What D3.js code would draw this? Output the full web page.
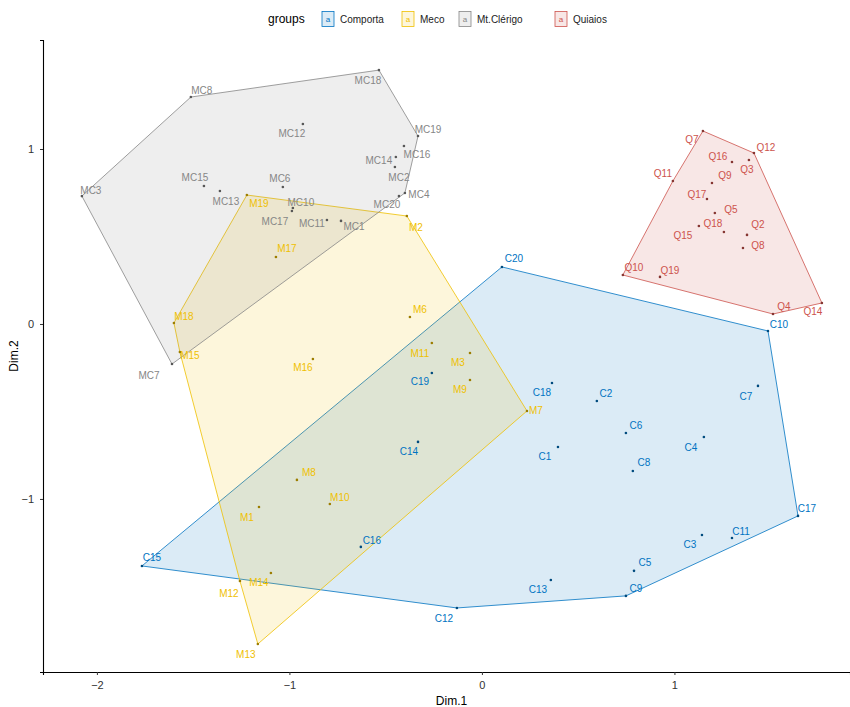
<!DOCTYPE html>
<html>
<head>
<meta charset="utf-8">
<script src="https://cdn.jsdelivr.net/npm/d3@7"></script>
<style>
  body { margin: 0; background: #fff; }
  svg { display: block; font-family: "Liberation Sans", Arial, sans-serif; }
</style>
</head>
<body>
<div id="chart"></div>
<script>
// ---- data ----
var groupNames = ["Comporta", "Meco", "Mt.Clérigo", "Quiaios"];
var groupColors = ["#0073C2", "#EFC000", "#868686", "#CD534C"];

var comportaNames = ["C1","C2","C3","C4","C5","C6","C7","C8","C9","C10","C11","C12","C13","C14","C15","C16","C17","C18","C19","C20"];
var comportaX = [0.395,0.597,1.143,1.153,0.790,0.748,1.434,0.784,0.748,1.486,1.299,-0.130,0.358,-0.332,-1.766,-0.629,1.642,0.364,-0.260,0.104];
var comportaY = [-0.703,-0.440,-1.206,-0.646,-1.411,-0.623,-0.354,-0.840,-1.554,-0.040,-1.223,-1.623,-1.463,-0.674,-1.383,-1.274,-1.097,-0.337,-0.280,0.326];

var mecoNames = ["M1","M2","M3","M6","M7","M8","M9","M10","M11","M12","M13","M14","M15","M16","M17","M18","M19"];
var mecoX = [-1.158,-0.390,-0.062,-0.374,0.234,-0.961,-0.062,-0.790,-0.260,-1.257,-1.164,-1.096,-1.569,-0.878,-1.070,-1.600,-1.221];
var mecoY = [-1.046,0.617,-0.166,0.040,-0.497,-0.891,-0.320,-1.029,-0.109,-1.469,-1.829,-1.423,-0.160,-0.200,0.383,0.006,0.737];

var clerigoNames = ["MC1","MC2","MC3","MC4","MC6","MC7","MC8","MC10","MC11","MC12","MC13","MC14","MC15","MC16","MC17","MC18","MC19","MC20"];
var clerigoX = [-0.732,-0.452,-2.078,-0.400,-1.034,-1.610,-1.512,-0.982,-0.805,-0.930,-1.361,-0.447,-1.444,-0.405,-0.987,-0.535,-0.332,-0.431];
var clerigoY = [0.589,0.897,0.731,0.749,0.783,-0.229,1.297,0.663,0.594,1.143,0.760,0.954,0.789,1.017,0.646,1.451,1.074,0.731];

var quiaiosNames = ["Q2","Q3","Q4","Q5","Q7","Q8","Q9","Q10","Q11","Q12","Q14","Q15","Q16","Q17","Q18","Q19"];
var quiaiosX = [1.377,1.387,1.512,1.210,1.148,1.356,1.195,0.732,0.992,1.413,1.766,1.127,1.299,1.169,1.257,0.925];
var quiaiosY = [0.509,0.937,0.057,0.634,1.103,0.434,0.806,0.280,0.817,0.977,0.120,0.560,0.926,0.714,0.526,0.269];

var xTicks = [-2, -1, 0, 1];
var yTicks = [-1, 0, 1];

// label placement (pixel nudges, like ggrepel output)
var labelNudge = {
  C1:[-13,10], C2:[9,-7], C3:[-12,10], C4:[-13,10], C5:[11,-8], C6:[10,-7], C7:[-12,11], C8:[11,-8],
  C9:[10,-7], C10:[11,-6], C11:[9,-6], C12:[-13,11], C13:[-13,10], C14:[-9,10], C15:[10,-8],
  C16:[11,-6], C17:[9,-7], C18:[-10,10], C19:[-12,9], C20:[12,-8],
  M1:[-12,10], M2:[9,11], M3:[-12,9], M6:[10,-7], M7:[9,0], M8:[12,-7], M9:[-10,10], M10:[10,-7],
  M11:[-12,10], M12:[-11,12], M13:[-12,10], M14:[-12,10], M15:[10,4], M16:[-10,9], M17:[11,-8],
  M18:[10,-6], M19:[12,8],
  MC1:[13,6], MC2:[4,10], MC3:[9,-6], MC4:[14,2], MC6:[-3,-8], MC7:[-23,11], MC8:[11,-7],
  MC10:[8,-5], MC11:[-15,3], MC12:[-11,10], MC13:[6,10], MC14:[-17,3], MC15:[-9,-8], MC16:[13,8],
  MC17:[-17,11], MC18:[-11,10], MC19:[10,-7], MC20:[-12,8],
  Q2:[11,-10], Q3:[-2,9], Q4:[11,-8], Q5:[16,-4], Q7:[-11,9], Q8:[15,-3], Q9:[13,-7], Q10:[11,-7],
  Q11:[-10,-8], Q12:[12,-6], Q14:[-9,9], Q15:[-16,10], Q16:[-14,-5], Q17:[-10,-5], Q18:[-11,-8],
  Q19:[10,-6]
};

var width = 850, height = 707;
var margin = {top: 40, right: 0, bottom: 35, left: 43};
var panelRight = 860; // panel runs slightly past the picture edge

var svg = d3.select("#chart").append("svg")
    .attr("width", width)
    .attr("height", height);

var x = d3.scaleLinear().domain([-2.28, 1.912]).range([margin.left, width - margin.right]);
var y = d3.scaleLinear().domain([1.623, -1.989]).range([margin.top, height - margin.bottom]);

function makeGroup(i, names, xs, ys) {
  return {
    name: groupNames[i],
    color: groupColors[i],
    points: names.map(function(n, k) { return {label: n, x: xs[k], y: ys[k]}; })
  };
}

var groups = [
  makeGroup(0, comportaNames, comportaX, comportaY),
  makeGroup(1, mecoNames, mecoX, mecoY),
  makeGroup(2, clerigoNames, clerigoX, clerigoY),
  makeGroup(3, quiaiosNames, quiaiosX, quiaiosY)
];

// hulls
var hullLayer = svg.append("g").attr("class", "hulls");
groups.forEach(function(g) {
  var pts = g.points.map(function(p) { return [x(p.x), y(p.y)]; });
  var hull = d3.polygonHull(pts);
  hullLayer.append("path")
      .attr("d", "M" + hull.join("L") + "Z")
      .attr("fill", g.color)
      .attr("fill-opacity", 0.14)
      .attr("stroke", g.color)
      .attr("stroke-width", 0.8);
});

// points and labels
groups.forEach(function(g) {
  var layer = svg.append("g").attr("class", "grp");
  layer.selectAll("circle")
      .data(g.points)
      .enter().append("circle")
      .attr("cx", function(d) { return x(d.x); })
      .attr("cy", function(d) { return y(d.y); })
      .attr("r", 1.3)
      .attr("fill", d3.color(g.color).darker(1.2));

  layer.selectAll("text")
      .data(g.points)
      .enter().append("text")
      .attr("x", function(d) { return x(d.x) + (labelNudge[d.label] || [0, -8])[0]; })
      .attr("y", function(d) { return y(d.y) + (labelNudge[d.label] || [0, -8])[1]; })
      .attr("text-anchor", "middle")
      .attr("dominant-baseline", "central")
      .attr("font-size", 10)
      .attr("fill", g.color)
      .text(function(d) { return d.label; });
});

// axes
var xAxis = d3.axisBottom(x).tickValues(xTicks).tickSize(3).tickPadding(6).tickFormat(d3.format("d"));
var yAxis = d3.axisLeft(y).tickValues(yTicks).tickSize(3).tickPadding(6).tickFormat(d3.format("d"));

var gx = svg.append("g")
    .attr("transform", "translate(0," + (height - margin.bottom) + ")")
    .call(xAxis);
var gy = svg.append("g")
    .attr("transform", "translate(" + margin.left + ",0)")
    .call(yAxis);

[gx, gy].forEach(function(a) {
  a.select(".domain").attr("stroke", "#000").attr("stroke-width", 1.1);
  a.selectAll(".tick line").attr("stroke", "#333");
  a.selectAll(".tick text").attr("font-size", 11).attr("fill", "#333")
      .attr("font-family", "Liberation Sans, Arial, sans-serif");
});

svg.append("text")
    .attr("x", (margin.left + panelRight) / 2)
    .attr("y", height - 2)
    .attr("text-anchor", "middle")
    .attr("font-size", 12)
    .attr("fill", "#000")
    .text("Dim.1");

svg.append("text")
    .attr("transform", "translate(18," + (margin.top + height - margin.bottom) / 2 + ") rotate(-90)")
    .attr("text-anchor", "middle")
    .attr("font-size", 12)
    .attr("fill", "#000")
    .text("Dim.2");

// legend
var legend = svg.append("g").attr("transform", "translate(268,19)");
legend.append("text")
    .attr("x", 0).attr("y", 0)
    .attr("dominant-baseline", "central")
    .attr("font-size", 12)
    .text("groups");

var legendX = [54, 134, 191, 287];
groups.forEach(function(g, i) {
  var item = legend.append("g").attr("transform", "translate(" + legendX[i] + ",0)");
  item.append("rect")
      .attr("x", 0).attr("y", -7.5)
      .attr("width", 12).attr("height", 15)
      .attr("fill", g.color).attr("fill-opacity", 0.14)
      .attr("stroke", g.color).attr("stroke-width", 0.8);
  item.append("text")
      .attr("x", 6).attr("y", 0)
      .attr("text-anchor", "middle")
      .attr("dominant-baseline", "central")
      .attr("font-size", 8)
      .attr("fill", g.color)
      .text("a");
  item.append("text")
      .attr("x", 18).attr("y", 0)
      .attr("dominant-baseline", "central")
      .attr("font-size", 10)
      .attr("fill", "#222")
      .text(g.name);
});
</script>
</body>
</html>
